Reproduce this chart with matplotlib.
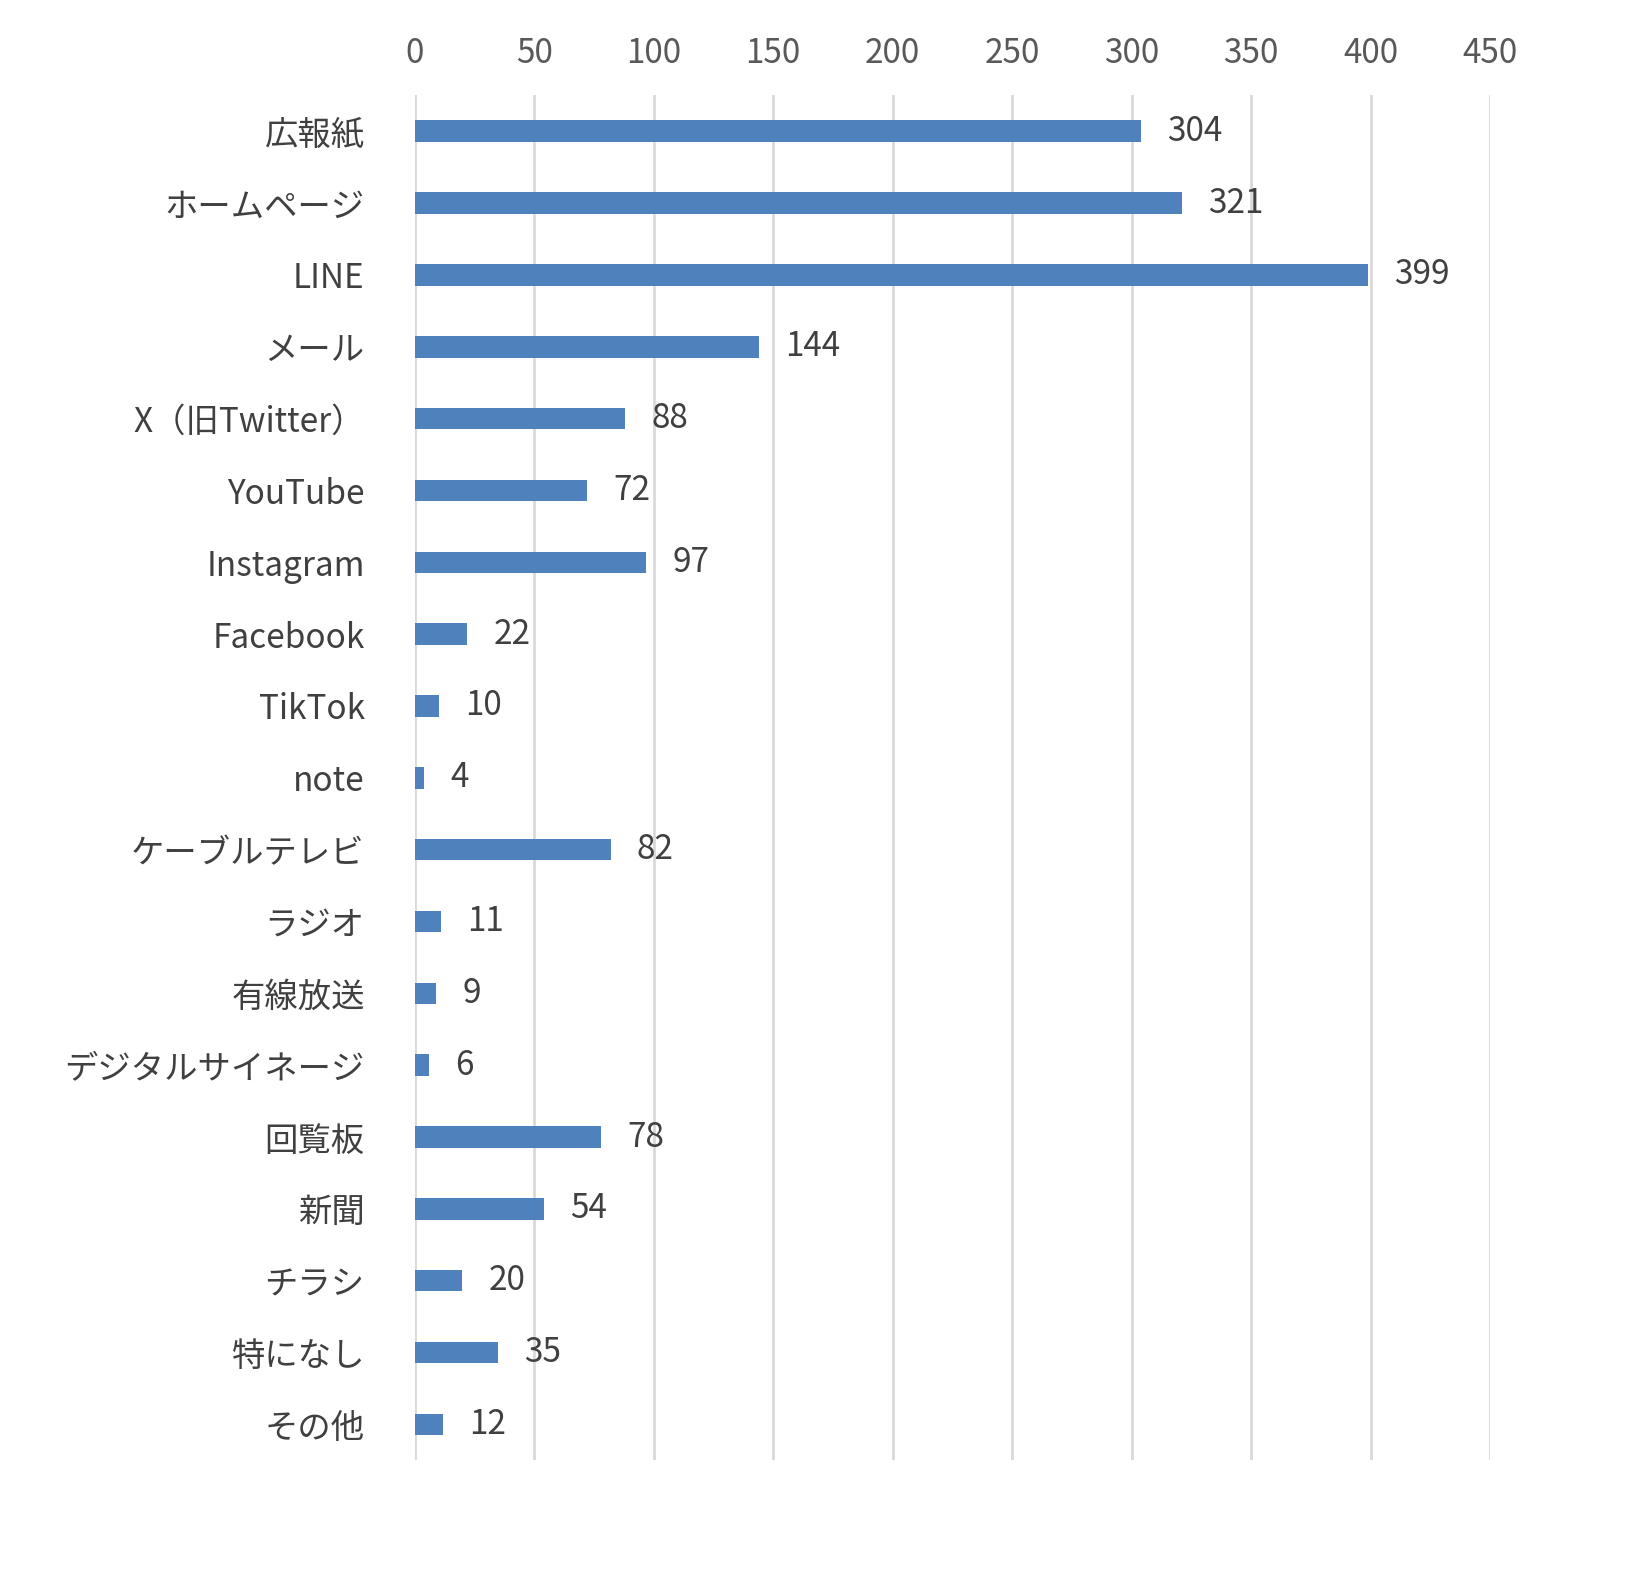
import matplotlib.pyplot as plt

plt.rcParams["font.family"] = ["Noto Sans CJK JP", "DejaVu Sans"]

categories = ["広報紙", "ホームページ", "LINE", "メール", "X（旧Twitter）", "YouTube",
              "Instagram", "Facebook", "TikTok", "note", "ケーブルテレビ", "ラジオ",
              "有線放送", "デジタルサイネージ", "回覧板", "新聞", "チラシ", "特になし", "その他"]
values = [304, 321, 399, 144, 88, 72, 97, 22, 10, 4, 82, 11, 9, 6, 78, 54, 20, 35, 12]
x_ticks = list(range(0, 451, 50))

fig = plt.figure(figsize=(16.52, 15.89), dpi=100)
ax = fig.add_axes([0.251, 0.081, 0.651, 0.859])

y = list(range(len(categories)))
ax.barh(y, values, height=0.3, color="#4F81BD", zorder=3)
for yi, v in zip(y, values):
    ax.text(v + 11, yi, str(v), va="center", ha="left", fontsize=24, color="#404040")

ax.set_xlim(0, 450)
ax.set_ylim(len(categories) - 0.5, -0.5)
ax.set_yticks(y)
ax.set_yticklabels(categories, fontsize=24, color="#404040")
ax.set_xticks(x_ticks)
ax.tick_params(axis="x", labelsize=24, labelcolor="#595959", top=False, bottom=False,
               labeltop=True, labelbottom=False, pad=14)
ax.tick_params(axis="y", length=0, pad=36)
ax.grid(axis="x", color="#d9d9d9", linewidth=2, zorder=0)
for s in ax.spines.values():
    s.set_visible(False)

fig.savefig("out.png")
